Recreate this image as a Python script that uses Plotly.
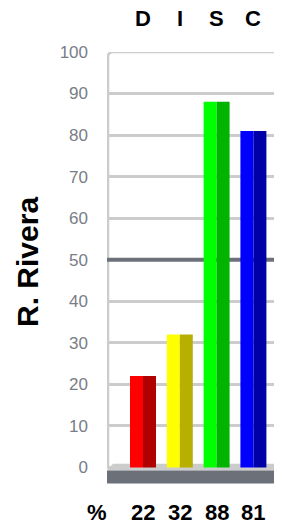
import plotly.graph_objects as go

categories = ["D", "I", "S", "C"]
values = [22, 32, 88, 81]
light_colors = ["#ff0000", "#ffff00", "#00ff00", "#0000ff"]
dark_colors = ["#b00000", "#b8b000", "#00b400", "#0000a8"]
y_ticks = [0, 10, 20, 30, 40, 50, 60, 70, 80, 90, 100]
person = "R. Rivera"
pct_label = "%"

FONT = "Liberation Sans, Arial, Helvetica, sans-serif"
pos = list(range(len(categories)))
half = 0.353

X0, X1 = -0.978, 3.777

fig = go.Figure()
fig.add_trace(go.Bar(x=pos, y=values, width=[half] * 4, offset=[-half] * 4,
                     marker=dict(color=light_colors, line=dict(width=0)),
                     hoverinfo="skip", showlegend=False))
fig.add_trace(go.Bar(x=pos, y=values, width=[half] * 4, offset=[0] * 4,
                     marker=dict(color=dark_colors, line=dict(width=0)),
                     hoverinfo="skip", showlegend=False))

# px per unit
pxx = 175 / (X1 - X0)
pxy = 432 / 104.0

shapes = []
# floor (light, slanted)
fx_left = X0
fx_in = X0 + 6 / pxx
shapes.append(dict(type="path", xref="x", yref="y", layer="between",
                   path=f"M {fx_left},{-0.75} L {fx_in},{0.85} L {X1},{0.85} L {X1},{-0.75} Z",
                   fillcolor="#cccccc", line=dict(width=0)))
# dark front band
shapes.append(dict(type="rect", xref="x", yref="y", layer="between",
                   x0=X0 - 2 / pxx, x1=X1, y0=-3.9, y1=-0.75,
                   fillcolor="#6b7079", line=dict(width=0)))
# left axis + top border with rounded corner
r_x = 5 / pxx
r_y = 5 / pxy
lx = X0 + 1 / pxx
shapes.append(dict(type="path", xref="x", yref="y", layer="between",
                   path=f"M {lx},{0} L {lx},{100 - r_y} Q {lx},{100} {lx + r_x},{100} L {X1},{100}",
                   line=dict(color="#cccccc", width=2.5)))
# 50% line
shapes.append(dict(type="line", xref="x", yref="y", layer="between",
                   x0=X0, x1=X1, y0=50, y1=50,
                   line=dict(color="#6b7079", width=4)))

annotations = []
for i, c in enumerate(categories):
    annotations.append(dict(x=i, y=1.0775, xref="x", yref="paper", text=c,
                            showarrow=False, xanchor="center", yanchor="middle",
                            font=dict(family=FONT, size=22, color="#000000", weight="bold")))
    annotations.append(dict(x=i, y=-0.065, xref="x", yref="paper", text=str(values[i]),
                            showarrow=False, xanchor="center", yanchor="middle",
                            font=dict(family=FONT, size=22, color="#000000", weight="bold")))
annotations.append(dict(x=(97 - 107) / 175, y=-0.065, xref="paper", yref="paper", text=pct_label,
                        showarrow=False, xanchor="center", yanchor="middle",
                        font=dict(family=FONT, size=22, color="#000000", weight="bold")))
annotations.append(dict(x=(27 - 107) / 175, y=(484 - 262) / 432, xref="paper", yref="paper",
                        text=person, textangle=-90, showarrow=False,
                        xanchor="center", yanchor="middle",
                        font=dict(family=FONT, size=30, color="#000000", weight="bold")))

# page has an 8px body margin, so the figure is sized to fit the window
fig.update_layout(
    width=274, height=519,
    margin=dict(l=99, r=0, t=44, b=43, pad=0),
    paper_bgcolor="white", plot_bgcolor="white",
    barmode="overlay",
    showlegend=False,
    shapes=shapes,
    annotations=annotations,
    xaxis=dict(range=[X0, X1], showgrid=False, zeroline=False, showline=False,
               showticklabels=False, ticks="", fixedrange=True),
    yaxis=dict(range=[-4, 100], tickvals=y_ticks, showgrid=True, gridcolor="#cccccc",
               gridwidth=2.5, zeroline=False, showline=False, ticks="",
               ticklabelstandoff=18,
               tickfont=dict(family=FONT, size=17, color="#787d87"), fixedrange=True),
)

fig.write_html("out.html", config={"displayModeBar": False})
